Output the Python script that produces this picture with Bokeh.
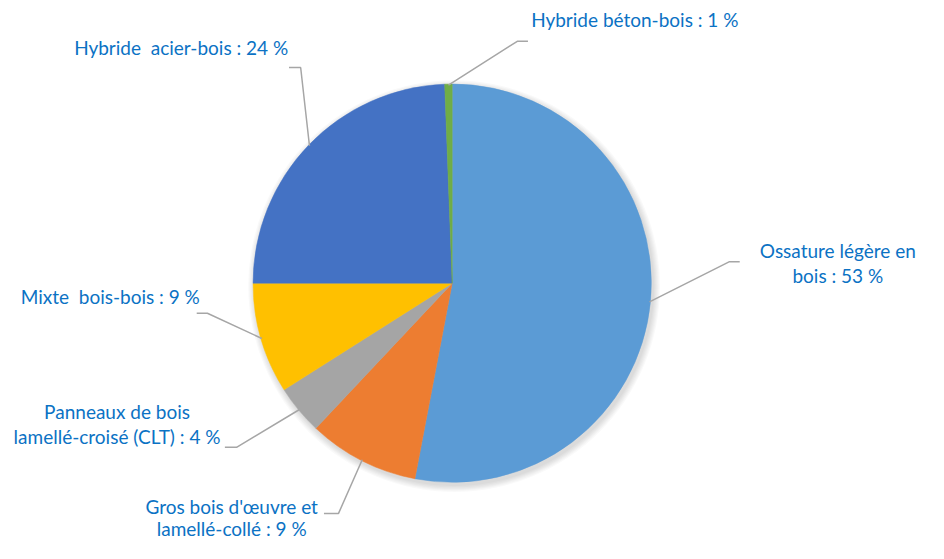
import math
from bokeh.plotting import figure
from bokeh.models import Range1d, ColumnDataSource
from bokeh.core.properties import value
from bokeh.embed import file_html
from bokeh.resources import INLINE

# ---- data (clockwise from 12 o'clock) ----
categories = ["Ossature légère en bois", "Gros bois d'œuvre et lamellé-collé",
              "Panneaux de bois lamellé-croisé (CLT)", "Mixte  bois-bois",
              "Hybride  acier-bois", "Hybride béton-bois"]
shares = [53.0, 9.0, 4.0, 9.0, 24.4, 0.6]
label_lines = [["Ossature légère en", "bois : 53 %"],
               ["Gros bois d'œuvre et", "lamellé-collé : 9 %"],
               ["Panneaux de bois", "lamellé-croisé (CLT) : 4 %"],
               ["Mixte\u00a0 bois-bois : 9 %"],
               ["Hybride\u00a0 acier-bois : 24 %"],
               ["Hybride béton-bois : 1 %"]]
colors = ["#5B9BD5", "#ED7D31", "#A5A5A5", "#FFC000", "#4472C4", "#70AD47"]

PW, PH = 928, 543
REF_H = 559
S = PH / REF_H            # uniform scale so the pie stays round
FONT = "Lato"
FS = "19px"
TXT = "#0b72c4"
LEAD = "#A6A6A6"

def Y(py):
    return REF_H - py

p = figure(width=PW, height=PH, output_backend="svg", toolbar_location=None,
           x_range=Range1d(0, PW / S), y_range=Range1d(0, REF_H), min_border=0)
p.axis.visible = False
p.grid.visible = False
p.outline_line_color = None
p.background_fill_color = "white"

cx, cy, R = 465, Y(291), 205

# soft shadow
for k in range(6):
    p.circle(x=[cx + 2], y=[cy - 3], radius=R + 1 + k * 1.2,
             fill_color="black", fill_alpha=0.025, line_color=None)

total = sum(shares)
starts, ends, mids = [], [], []
cum = 0.0
for s in shares:
    a0 = math.pi / 2 - 2 * math.pi * cum / total
    cum += s
    a1 = math.pi / 2 - 2 * math.pi * cum / total
    starts.append(a0)
    ends.append(a1)
    mids.append((a0 + a1) / 2)

src = ColumnDataSource(dict(x=[cx] * len(shares), y=[cy] * len(shares),
                            start=starts, end=ends, color=colors, cat=categories))
p.wedge(x="x", y="y", radius=R, start_angle="start", end_angle="end",
        direction="clock", fill_color="color", line_color="color",
        line_width=0.5, source=src)

# leader elbow points (layout) and label centers
elbows = [[(750, 269), (761, 269)],
          [(348, 528), (333, 528)],
          [(243, 460), (231, 460)],
          [(213, 322), (202, 322)],
          [(309, 69), (297, 69)],
          [(532, 42), (543, 42)]]
label_pos = [(862, [257, 283]),
             (238, [521, 544]),
             (120, [423, 449]),
             (113, [305]),
             (186, [48]),
             (653, [20])]

for i, m in enumerate(mids):
    ax = cx + (R - 1) * math.cos(m)
    ay = cy + (R - 1) * math.sin(m)
    xs = [ax] + [e[0] for e in elbows[i]]
    ys = [ay] + [Y(e[1]) for e in elbows[i]]
    p.line(xs, ys, line_color=LEAD, line_width=1.5)
    lx, lys = label_pos[i]
    for line, ly in zip(label_lines[i], lys):
        p.text(x=[lx], y=[Y(ly)], text=[line], text_font=value(FONT),
               text_font_size=FS, text_color=TXT, text_align="center",
               text_baseline="middle")

open("out.html", "w").write(file_html(p, INLINE))
